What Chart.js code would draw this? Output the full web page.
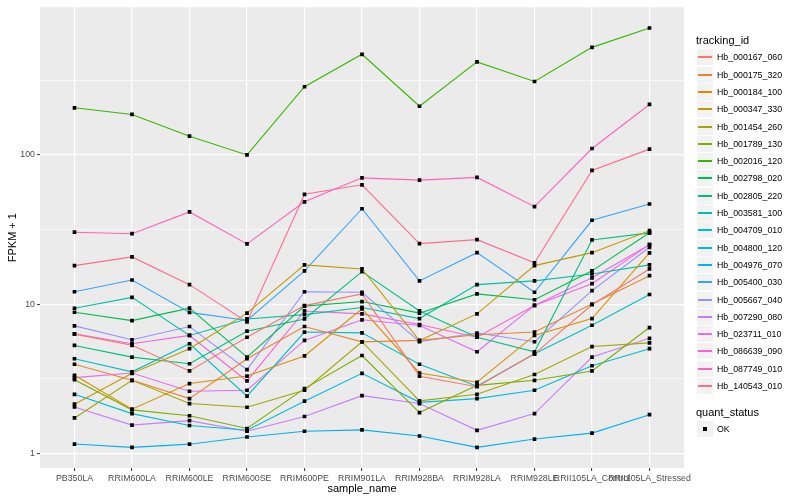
<!DOCTYPE html>
<html><head><meta charset="utf-8">
<script src="https://cdn.jsdelivr.net/npm/chart.js@4.4.0/dist/chart.umd.min.js"></script>
<style>
html,body{margin:0;padding:0;background:#fff;}
#wrap{position:relative;width:800px;height:500px;font-family:"Liberation Sans",Arial,sans-serif;}
#c{position:absolute;left:0;top:0;}
#legend{position:absolute;left:696px;top:0;width:104px;}
.lt{position:absolute;left:0;font-size:11px;color:#000;line-height:11px;white-space:nowrap;}
.key{position:absolute;left:1px;width:16px;height:16px;background:#F2F2F2;}
.key i{position:absolute;left:1px;right:1px;top:7px;height:1.5px;display:block;}
.lab{position:absolute;left:21px;font-size:8.8px;line-height:9px;color:#000;white-space:nowrap;}
.pt{position:absolute;left:6px;top:6px;width:4px;height:4px;background:#000;}
</style></head>
<body><div id="wrap"><canvas id="c" width="800" height="500"></canvas><div id="legend"></div></div>
<script>
const categories = ["PB350LA","RRIM600LA","RRIM600LE","RRIM600SE","RRIM600PE","RRIM901LA","RRIM928BA","RRIM928LA","RRIM928LE","RRII105LA_Control","RRII105LA_Stressed"];
const trackingIds = ["Hb_000167_060","Hb_000175_320","Hb_000184_100","Hb_000347_330","Hb_001454_260","Hb_001789_130","Hb_002016_120","Hb_002798_020","Hb_002805_220","Hb_003581_100","Hb_004709_010","Hb_004800_120","Hb_004976_070","Hb_005400_030","Hb_005667_040","Hb_007290_080","Hb_023711_010","Hb_086639_090","Hb_087749_010","Hb_140543_010"];
const colors = ["#F8766D","#EA8331","#D89000","#C09B00","#A3A500","#7CAE00","#39B600","#00BB4E","#00BF7D","#00C1A3","#00BFC4","#00BAE0","#00B0F6","#35A2FF","#9590FF","#C77CFF","#E76BF3","#FA62DB","#FF62BC","#FF6C91"];
const yMajorTicks = [1, 10, 100];
const yMinorTicks = [3.1623, 31.623, 316.23];

const Hb_000167_060 = [6.3, 5.3, 3.57, 6.0, 9.77, 11.7, 3.29, 2.8, 4.65, 9.9, 17.2];
const Hb_000175_320 = [3.96, 3.09, 2.33, 4.31, 7.08, 5.59, 5.72, 6.24, 6.5, 10.0, 15.5];
const Hb_000184_100 = [3.34, 1.98, 2.94, 3.3, 4.5, 9.3, 3.46, 3.0, 6.17, 8.0, 22];
const Hb_000347_330 = [2.14, 3.44, 5.03, 8.7, 18.3, 17.2, 5.7, 8.6, 18.1, 22.1, 31];
const Hb_001454_260 = [1.73, 3.09, 2.16, 2.04, 2.65, 5.6, 2.25, 2.49, 3.38, 5.2, 5.5];
const Hb_001789_130 = [3.12, 1.96, 1.79, 1.47, 2.72, 4.53, 1.88, 2.86, 3.09, 3.57, 6.97];
const Hb_002016_120 = [206, 186, 133, 99.7, 285, 470, 211, 418, 309, 523, 705];
const Hb_002798_020 = [8.82, 7.76, 9.4, 4.42, 9.7, 10.4, 8.7, 11.7, 10.7, 16.7, 30];
const Hb_002805_220 = [5.29, 4.42, 3.99, 6.59, 7.96, 16.5, 9.0, 6.0, 4.8, 26.9, 30];
const Hb_003581_100 = [9.38, 11.1, 6.17, 7.96, 8.5, 9.5, 8.0, 13.5, 14.3, 15.9, 18.3];
const Hb_004709_010 = [4.31, 3.52, 5.43, 2.42, 6.5, 6.42, 3.96, 2.82, 4.65, 7.22, 11.6];
const Hb_004800_120 = [2.49, 1.85, 1.54, 1.43, 2.24, 3.44, 2.2, 2.33, 2.65, 3.87, 5.03];
const Hb_004976_070 = [1.157, 1.099, 1.155, 1.29, 1.41, 1.44, 1.31, 1.1, 1.25, 1.37, 1.82];
const Hb_005400_030 = [12.1, 14.5, 8.8, 7.77, 16.7, 43.5, 14.3, 22.1, 12.0, 36.4, 46.8];
const Hb_005667_040 = [7.15, 5.77, 7.08, 3.64, 12.1, 12.0, 5.6, 6.4, 5.6, 12.3, 24];
const Hb_007290_080 = [2.05, 1.55, 1.66, 1.41, 1.77, 2.44, 2.16, 1.43, 1.85, 4.42, 5.9];
const Hb_023711_010 = [3.22, 3.46, 2.61, 2.65, 5.72, 7.85, 7.2, 4.8, 9.8, 15.0, 25];
const Hb_086639_090 = [6.33, 5.43, 6.17, 3.06, 9.0, 8.6, 7.3, 6.0, 9.8, 13.7, 25];
const Hb_087749_010 = [30.3, 29.6, 41.4, 25.3, 48.4, 70, 67.6, 70.5, 44.9, 110, 217];
const Hb_140543_010 = [18.1, 20.7, 13.5, 7.6, 54.3, 62.9, 25.4, 27, 18.9, 78.5, 109];

const seriesValues = [Hb_000167_060,Hb_000175_320,Hb_000184_100,Hb_000347_330,Hb_001454_260,Hb_001789_130,Hb_002016_120,Hb_002798_020,Hb_002805_220,Hb_003581_100,Hb_004709_010,Hb_004800_120,Hb_004976_070,Hb_005400_030,Hb_005667_040,Hb_007290_080,Hb_023711_010,Hb_086639_090,Hb_087749_010,Hb_140543_010];

const FONT = '"Liberation Sans", Arial, sans-serif';
const CA = {left:40, right:684, top:5, bottom:468};

const datasets = seriesValues.map((vals, k) => ({
  label: trackingIds[k],
  data: vals.map((v, i) => ({x: i, y: v})),
  borderColor: colors[k],
  backgroundColor: colors[k],
  borderWidth: 1.1,
  pointStyle: 'rect',
  pointRadius: 2.6,
  pointBorderWidth: 0,
  pointBackgroundColor: '#000',
  pointHoverRadius: 2.6,
  tension: 0
}));

const panelBg = {
  id: 'panelBg',
  beforeDraw(chart) {
    const {ctx, chartArea: a} = chart;
    ctx.save(); ctx.fillStyle = '#EBEBEB';
    ctx.fillRect(a.left, a.top, a.right - a.left, a.bottom - a.top);
    ctx.restore();
  }
};

const allY = yMajorTicks.concat(yMinorTicks).sort((a,b)=>a-b);
const isMajor = v => yMajorTicks.some(m => Math.abs(m - v) < 1e-6);

new Chart(document.getElementById('c'), {
  type: 'line',
  data: { datasets },
  plugins: [panelBg],
  options: {
    responsive: false, animation: false, devicePixelRatio: 1,
    layout: { padding: { left: 0, right: 800 - CA.right, top: CA.top, bottom: 0 } },
    plugins: { legend: { display: false }, tooltip: { enabled: false } },
    scales: {
      x: {
        type: 'linear', min: -0.6, max: categories.length - 1 + 0.6,
        afterBuildTicks: s => { s.ticks = categories.map((_, i) => ({value: i})); },
        afterFit: s => { s.height = 500 - CA.bottom; },
        ticks: { autoSkip: false, maxRotation: 0, minRotation: 0, padding: 2,
          color: '#4D4D4D', font: { family: FONT, size: 8.8 },
          callback: v => categories[v] },
        grid: { color: '#FFFFFF', lineWidth: 1.2, drawTicks: true, tickLength: 3, tickColor: '#333333', tickWidth: 1 },
        border: { display: false },
        title: { display: true, text: 'sample_name', color: '#000', font: { family: FONT, size: 11 }, padding: { top: 0, bottom: 4 } }
      },
      y: {
        type: 'logarithmic', min: 0.8, max: 970,
        afterBuildTicks: s => { s.ticks = allY.map(v => ({value: v})); },
        afterFit: s => { s.width = CA.left; },
        ticks: { autoSkip: false, padding: 2, color: '#4D4D4D', font: { family: FONT, size: 8.8 },
          callback: v => isMajor(v) ? String(Math.round(v)) : '' },
        grid: { color: '#FFFFFF',
          lineWidth: c => (c.tick && isMajor(c.tick.value)) ? 1.2 : 0.6,
          drawTicks: true, tickLength: 3,
          tickColor: c => (c.tick && isMajor(c.tick.value)) ? '#333333' : 'rgba(0,0,0,0)', tickWidth: 1 },
        border: { display: false },
        title: { display: true, text: 'FPKM + 1', color: '#000', font: { family: FONT, size: 11 }, padding: { top: 6, bottom: 0 } }
      }
    }
  }
});

// legend (HTML)
const lg = document.getElementById('legend');
let html = '<div class="lt" style="top:35px">tracking_id</div>';
trackingIds.forEach((id, k) => {
  const top = Math.round(57.3 + 17.3 * k - 8);
  html += `<div class="key" style="top:${top}px"><i style="background:${colors[k]}"></i></div>`;
  html += `<div class="lab" style="top:${top + 3.5}px">${id}</div>`;
});
html += '<div class="lt" style="top:407px">quant_status</div>';
html += '<div class="key" style="top:421px"><span class="pt"></span></div>';
html += '<div class="lab" style="top:424.5px">OK</div>';
lg.innerHTML = html;
</script>
</body></html>
